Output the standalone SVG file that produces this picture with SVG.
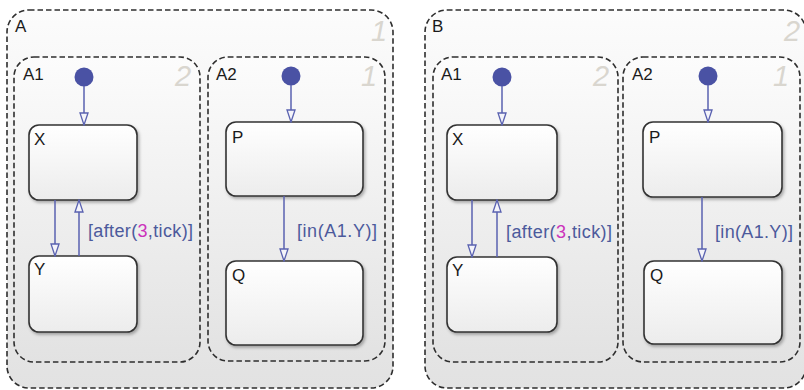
<svg xmlns="http://www.w3.org/2000/svg" width="804" height="390" viewBox="0 0 804 390">
<style>
.chart{stroke:#2e2e2e;stroke-width:1.6;stroke-dasharray:5.5 3;fill:url(#gbg)}
.state{stroke:#333;stroke-width:1.6;fill:url(#gst);filter:url(#sh)}
.lbl{font-family:"Liberation Sans",Arial,sans-serif;font-size:17px;fill:#1a1a1a}
.num{font-family:"Liberation Sans",Arial,sans-serif;font-size:29px;font-style:italic;fill:#d9d6cf}
.tl{font-family:"Liberation Sans",Arial,sans-serif;font-size:18px;fill:#4c5a9c}
.mg{fill:#cc33bb}
.tr{stroke:#5a62b0;stroke-width:1.5;fill:none;marker-end:url(#ah)}
.dot{fill:#4a52a4}
</style>
<defs>
<linearGradient id="gbg" x1="0" y1="0" x2="0" y2="1">
<stop offset="0" stop-color="#fcfcfc"/><stop offset="1" stop-color="#e2e2e2"/>
</linearGradient>
<linearGradient id="gst" x1="0" y1="0" x2="0" y2="1">
<stop offset="0" stop-color="#ffffff"/><stop offset="1" stop-color="#ececec"/>
</linearGradient>
<filter id="sh" x="-10%" y="-10%" width="125%" height="130%">
<feDropShadow dx="1.5" dy="2" stdDeviation="1.5" flood-color="#000" flood-opacity="0.3"/>
</filter>
<marker id="ah" markerUnits="userSpaceOnUse" viewBox="-1 -5 14 10" markerWidth="14" markerHeight="10" refX="12" refY="0" orient="auto">
<path d="M0,-4 L12,0 L0,4 Z" fill="#f4f4fa" stroke="#5a62b0" stroke-width="1.3"/>
</marker>
</defs>

<g id="A">
<rect class="chart" x="7" y="10" width="386" height="378" rx="22"/>
<text class="lbl" x="15" y="32">A</text>
<text class="num" x="371" y="41">1</text>
</g>
<g id="A_A1">
<rect class="chart" x="14" y="57" width="186" height="305" rx="20"/>
<text class="lbl" x="23" y="80">A1</text>
<text class="num" x="175" y="86">2</text>
</g>
<g id="A_A2">
<rect class="chart" x="208" y="57" width="177" height="304" rx="20"/>
<text class="lbl" x="216" y="80">A2</text>
<text class="num" x="361" y="86">1</text>
</g>
<g id="A_X"><rect class="state" x="29" y="125" width="108" height="75" rx="10"/><text class="lbl" x="34" y="145">X</text></g>
<g id="A_Y"><rect class="state" x="29" y="256" width="108" height="76" rx="10"/><text class="lbl" x="34" y="275">Y</text></g>
<g id="A_P"><rect class="state" x="226" y="122" width="137" height="74" rx="10"/><text class="lbl" x="232" y="143">P</text></g>
<g id="A_Q"><rect class="state" x="226" y="261" width="137" height="84" rx="10"/><text class="lbl" x="232" y="281">Q</text></g>

<g id="B">
<rect class="chart" x="425" y="10" width="381" height="378" rx="22"/>
<text class="lbl" x="432" y="32">B</text>
<text class="num" x="784" y="41">2</text>
</g>
<g id="B_A1">
<rect class="chart" x="433" y="57" width="185" height="305" rx="20"/>
<text class="lbl" x="441" y="80">A1</text>
<text class="num" x="593" y="86">2</text>
</g>
<g id="B_A2">
<rect class="chart" x="623" y="57" width="177" height="305" rx="20"/>
<text class="lbl" x="632" y="80">A2</text>
<text class="num" x="773" y="86">1</text>
</g>
<g id="B_X"><rect class="state" x="447" y="125" width="110" height="75" rx="10"/><text class="lbl" x="452" y="145">X</text></g>
<g id="B_Y"><rect class="state" x="447" y="257" width="110" height="75" rx="10"/><text class="lbl" x="452" y="276">Y</text></g>
<g id="B_P"><rect class="state" x="643" y="122" width="139" height="75" rx="10"/><text class="lbl" x="649" y="143">P</text></g>
<g id="B_Q"><rect class="state" x="644" y="261" width="138" height="83" rx="10"/><text class="lbl" x="650" y="281">Q</text></g>

<g id="connectors">
<circle class="dot" cx="84" cy="77" r="9.5"/>
<line class="tr" x1="84" y1="86" x2="84" y2="125"/>
<line class="tr" x1="55" y1="200" x2="55" y2="256"/>
<line class="tr" x1="79" y1="256" x2="79" y2="200"/>
<text class="tl" x="88" y="237" textLength="105" lengthAdjust="spacing">[after(<tspan class="mg">3</tspan>,tick)]</text>
<circle class="dot" cx="291" cy="76" r="9.5"/>
<line class="tr" x1="291" y1="85" x2="291" y2="122"/>
<line class="tr" x1="284" y1="196" x2="284" y2="261"/>
<text class="tl" x="297" y="237" textLength="80" lengthAdjust="spacing">[in(A1.Y)]</text>

<circle class="dot" cx="502" cy="77" r="9.5"/>
<line class="tr" x1="502" y1="86" x2="502" y2="125"/>
<line class="tr" x1="472" y1="200" x2="472" y2="257"/>
<line class="tr" x1="497" y1="257" x2="497" y2="200"/>
<text class="tl" x="506" y="238" textLength="106" lengthAdjust="spacing">[after(<tspan class="mg">3</tspan>,tick)]</text>
<circle class="dot" cx="708" cy="76" r="9.5"/>
<line class="tr" x1="708" y1="85" x2="708" y2="122"/>
<line class="tr" x1="702" y1="197" x2="702" y2="261"/>
<text class="tl" x="715" y="238" textLength="78" lengthAdjust="spacing">[in(A1.Y)]</text>
</g>
</svg>
